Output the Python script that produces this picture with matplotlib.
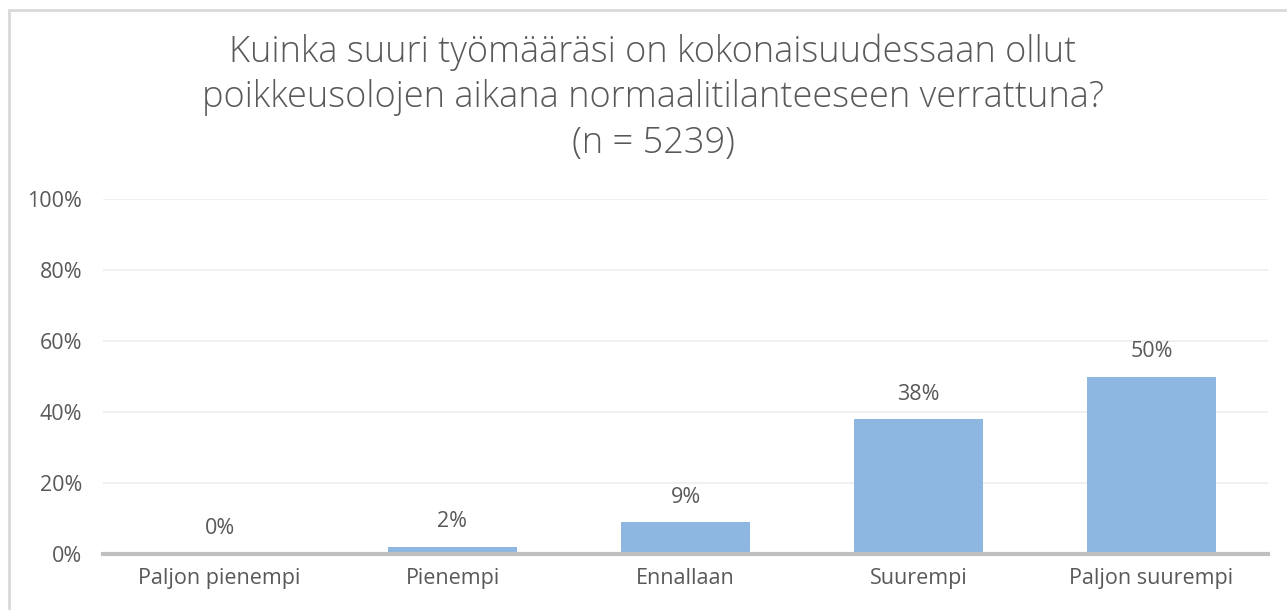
import matplotlib
import numpy as np

matplotlib.use("Agg")
import matplotlib.pyplot as plt
from matplotlib.patches import Rectangle
from matplotlib.ticker import FuncFormatter

categories = ["Paljon pienempi", "Pienempi", "Ennallaan", "Suurempi", "Paljon suurempi"]
shares = [0, 2, 9, 38, 50]
title_lines = [
    "Kuinka suuri työmääräsi on kokonaisuudessaan ollut",
    "poikkeusolojen aikana normaalitilanteeseen verrattuna?",
    "(n = 5239)",
]

TEXT = "#595959"
BAR = "#8DB7E0"

plt.rcParams["font.family"] = ["Open Sans", "DejaVu Sans"]

fig = plt.figure(figsize=(12.87, 6.10), dpi=100)
ax = fig.add_axes([103 / 1287, 56 / 610, 1165 / 1287, 355 / 610])

# light frame round the whole chart area
fig.patches.append(Rectangle((9 / 1287, -0.05), 1.1, 1 - 10 / 610 + 0.05,
                             transform=fig.transFigure, fill=False,
                             edgecolor="#D9D9D9", linewidth=2, zorder=0))

x = np.arange(len(categories))
vals = np.array(shares) / 100
ax.bar(x, vals, width=0.555, color=BAR, zorder=2)
for xi, v, s in zip(x, vals, shares):
    ax.annotate(f"{s}%", (xi, v), xytext=(0, 18), textcoords="offset points",
                ha="center", va="center", fontsize=15.5, color=TEXT)

ax.set_xlim(-0.5, len(categories) - 0.5)
ax.set_ylim(0, 1)
ax.set_yticks(np.arange(0, 1.01, 0.2))
ax.yaxis.set_major_formatter(FuncFormatter(lambda v, _: f"{v * 100:.0f}%"))
ax.set_xticks(x)
ax.set_xticklabels(categories)
ax.tick_params(axis="both", length=0, labelsize=15.5, labelcolor=TEXT)
ax.tick_params(axis="x", pad=10)
ax.tick_params(axis="y", pad=15)
ax.grid(axis="y", color="#EDEDED", linewidth=1.2, zorder=0)
ax.set_axisbelow(True)
for side in ["top", "right", "left"]:
    ax.spines[side].set_visible(False)
ax.spines["bottom"].set_color("#BFBFBF")
ax.spines["bottom"].set_linewidth(3)
ax.spines["bottom"].set_zorder(3)

for i, line in enumerate(title_lines):
    fig.text(653 / 1287, 1 - (52 + 46 * i) / 610, line, ha="center", va="center",
             fontsize=26, fontweight="light", color=TEXT)

fig.savefig("out.png", dpi=100)
